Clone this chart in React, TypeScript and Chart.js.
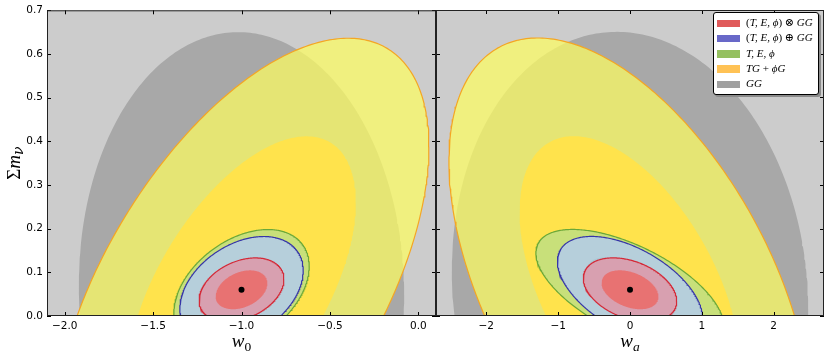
import React, { useEffect, useRef } from 'react';
import { Chart, registerables } from 'chart.js';
Chart.register(...registerables);

// ---------- data ----------
// probes, bottom to top of the drawing stack
const probes = ['GG', 'TG+ϕG', 'T,E,ϕ', '(T,E,ϕ)⊕GG', '(T,E,ϕ)⊗GG'];
const fiducialW0 = -1.0;
const fiducialWa = 0.0;
const fiducialMnu = 0.06;
// 2σ half-extents and correlations
const mnu2sigma = [0.59, 0.576, 0.138, 0.122, 0.073];
const w0TwoSigma = [0.92, 1.06, 0.383, 0.349, 0.24];
const w0Corr = [-0.02, 0.569, 0.39, 0.36, 0.33];
const waTwoSigma = [2.48, 2.52, 1.31, 1.01, 0.65];
const waCorr = [-0.075, -0.51, -0.61, -0.53, -0.36];
const oneSigmaRatio = 0.61;

const w0Ticks = [-2.0, -1.5, -1.0, -0.5, 0.0];
const waTicks = [-2, -1, 0, 1, 2];
const mnuTicks = [0.0, 0.1, 0.2, 0.3, 0.4, 0.5, 0.6, 0.7];
const w0Range = [-2.1, 0.1];
const waRange = [-2.7, 2.7];
const mnuRange = [0, 0.7];

const legendOrder = [4, 3, 2, 1, 0];

// ---------- styles ----------
const outerFill = ['#a8a8a8', 'rgba(255,255,94,0.7)', '#c8e07a', '#b6cfdb', '#d8a0b0'];
const innerFill = ['#a8a8a8', '#ffe34c', '#c8e07a', '#abc7d3', '#e87272'];
const edgeColor = ['', '#f5a623', '#6aa838', '#3636a8', '#d42a38'];
const legendColor = ['#a0a0a0', '#ffc255', '#95c060', '#6868c8', '#e05a5a'];

function ellipse(cx: number, cy: number, sx: number, sy: number, rho: number, n = 360) {
  const s = Math.sqrt(1 - rho * rho);
  const pts: { x: number; y: number }[] = [];
  for (let i = 0; i <= n; i++) {
    const t = (2 * Math.PI * i) / n;
    pts.push({ x: cx + sx * Math.cos(t), y: cy + sy * (rho * Math.cos(t) + s * Math.sin(t)) });
  }
  return pts;
}

function buildDatasets(cx: number, sxArr: number[], rhoArr: number[]) {
  const list: any[] = [];
  list.push({
    type: 'scatter',
    data: [{ x: cx, y: fiducialMnu }],
    pointRadius: 3,
    pointBackgroundColor: '#000',
    pointBorderWidth: 0,
    clip: 0,
  });
  for (let i = probes.length - 1; i >= 0; i--) {
    for (const level of ['inner', 'outer']) {
      const f = level === 'inner' ? oneSigmaRatio : 1;
      const edge = level === 'outer' ? edgeColor[i] : '';
      list.push({
        type: 'line',
        label: probes[i] + ' ' + level,
        data: ellipse(cx, fiducialMnu, sxArr[i] * f, mnu2sigma[i] * f, rhoArr[i]),
        backgroundColor: level === 'inner' ? innerFill[i] : outerFill[i],
        borderColor: edge || 'rgba(0,0,0,0)',
        borderWidth: edge ? 1.2 : 0,
        pointRadius: 0,
        fill: 'shape',
        tension: 0,
        clip: 0,
      });
    }
  }
  return list;
}

const fmt1 = (v: number) => v.toFixed(1).replace('-', '\u2212');
const fmt0 = (v: number) => v.toFixed(0).replace('-', '\u2212');

function makePlugin(xTicks: number[], sub: string, showYTitle: boolean) {
  return {
    id: 'frame',
    beforeDraw(chart: any) {
      const { ctx, chartArea: a } = chart;
      ctx.save();
      ctx.fillStyle = '#cccccc';
      ctx.fillRect(a.left, a.top, a.right - a.left, a.bottom - a.top);
      ctx.restore();
    },
    afterDraw(chart: any) {
      const { ctx, chartArea: a, scales } = chart;
      const xs = scales.x;
      const ys = scales.y;
      ctx.save();
      ctx.strokeStyle = '#000';
      ctx.lineWidth = 1;
      ctx.beginPath();
      for (const v of xTicks) {
        const p = Math.round(xs.getPixelForValue(v)) + 0.5;
        ctx.moveTo(p, a.bottom);
        ctx.lineTo(p, a.bottom - 4);
        ctx.moveTo(p, a.top);
        ctx.lineTo(p, a.top + 4);
      }
      for (const v of mnuTicks) {
        const p = Math.round(ys.getPixelForValue(v)) + 0.5;
        ctx.moveTo(a.left, p);
        ctx.lineTo(a.left + 4, p);
        ctx.moveTo(a.right, p);
        ctx.lineTo(a.right - 4, p);
      }
      ctx.stroke();
      ctx.strokeStyle = '#222';
      ctx.strokeRect(a.left + 0.5, a.top + 0.5, a.right - a.left - 1, a.bottom - a.top - 1);

      ctx.fillStyle = '#000';
      ctx.textBaseline = 'alphabetic';
      const mainFont = 'italic 19px "Liberation Serif", "DejaVu Serif", serif';
      const subFont = (sub === 'a' ? 'italic ' : '') + '13.5px "Liberation Serif", "DejaVu Serif", serif';
      ctx.font = mainFont;
      const mw = ctx.measureText('w').width;
      ctx.font = subFont;
      const sw = ctx.measureText(sub).width;
      const cx = (a.left + a.right) / 2;
      const x0 = cx - (mw + sw) / 2;
      ctx.font = mainFont;
      ctx.fillText('w', x0, 346.5);
      ctx.font = subFont;
      ctx.fillText(sub, x0 + mw, 350.5);

      if (showYTitle) {
        ctx.save();
        const cy = (a.top + a.bottom) / 2;
        ctx.translate(19.5, cy);
        ctx.rotate(-Math.PI / 2);
        const fSig = '19px "Liberation Serif", "DejaVu Serif", serif';
        const fM = 'italic 19px "Liberation Serif", "DejaVu Serif", serif';
        const fNu = 'italic 14px "DejaVu Serif", "Liberation Serif", serif';
        ctx.font = fSig;
        const w1 = ctx.measureText('\u03A3').width;
        ctx.font = fM;
        const w2 = ctx.measureText('m').width;
        ctx.font = fNu;
        const w3 = ctx.measureText('\u03BD').width;
        let x = -(w1 + w2 + w3) / 2;
        ctx.font = fSig;
        ctx.fillText('\u03A3', x, 0);
        x += w1;
        ctx.font = fM;
        ctx.fillText('m', x, 0);
        x += w2;
        ctx.font = fNu;
        ctx.fillText('\u03BD', x, 3.5);
        ctx.restore();
      }
      ctx.restore();
    },
  };
}

function makeChart(
  canvas: HTMLCanvasElement,
  cx: number,
  sxArr: number[],
  rhoArr: number[],
  range: number[],
  xTicks: number[],
  fmt: (v: number) => string,
  sub: string,
  left: boolean
) {
  return new Chart(canvas, {
    type: 'line',
    data: { datasets: buildDatasets(cx, sxArr, rhoArr) },
    options: {
      animation: false,
      responsive: false,
      devicePixelRatio: 1,
      events: [],
      layout: { padding: left ? { top: 10, right: 4, left: 0, bottom: 0 } : { top: 10, right: 6, left: 1, bottom: 0 } },
      plugins: { legend: { display: false }, tooltip: { enabled: false } },
      scales: {
        x: {
          type: 'linear',
          min: range[0],
          max: range[1],
          grid: { display: false, drawTicks: false },
          border: { display: false },
          afterBuildTicks: (s: any) => {
            s.ticks = xTicks.map((v) => ({ value: v }));
          },
          afterFit: (s: any) => {
            s.height = 41;
          },
          ticks: {
            padding: 4,
            maxRotation: 0,
            autoSkip: false,
            color: '#000',
            font: { family: '"DejaVu Sans", sans-serif', size: 10.5 },
            callback: (v: any) => fmt(Number(v)),
          },
        },
        y: {
          type: 'linear',
          display: left,
          min: mnuRange[0],
          max: mnuRange[1],
          grid: { display: false, drawTicks: false },
          border: { display: false },
          afterBuildTicks: (s: any) => {
            s.ticks = mnuTicks.map((v) => ({ value: v }));
          },
          afterFit: (s: any) => {
            s.width = left ? 47 : 0;
          },
          ticks: {
            padding: 4,
            autoSkip: false,
            color: '#000',
            font: { family: '"DejaVu Sans", sans-serif', size: 10.5 },
            callback: (v: any) => fmt1(Number(v)),
          },
        },
      },
    } as any,
    plugins: [makePlugin(xTicks, sub, left)],
  } as any);
}

function Lab({ k }: { k: number }) {
  const up = { fontStyle: 'normal' } as React.CSSProperties;
  if (k === 4)
    return (
      <span>
        <span style={up}>(</span>T, E, ϕ<span style={up}>) ⊗ </span>GG
      </span>
    );
  if (k === 3)
    return (
      <span>
        <span style={up}>(</span>T, E, ϕ<span style={up}>) ⊕ </span>GG
      </span>
    );
  if (k === 2) return <span>T, E, ϕ</span>;
  if (k === 1)
    return (
      <span>
        TG<span style={up}> + </span>ϕG
      </span>
    );
  return <span>GG</span>;
}

export default function App() {
  const leftRef = useRef<HTMLCanvasElement>(null);
  const rightRef = useRef<HTMLCanvasElement>(null);
  useEffect(() => {
    document.body.style.margin = '0';
    const c1 = makeChart(leftRef.current!, fiducialW0, w0TwoSigma, w0Corr, w0Range, w0Ticks, fmt1, '0', true);
    const c2 = makeChart(rightRef.current!, fiducialWa, waTwoSigma, waCorr, waRange, waTicks, fmt0, 'a', false);
    return () => {
      c1.destroy();
      c2.destroy();
    };
  }, []);
  return (
    <div style={{ position: 'fixed', left: 0, top: 0, width: 830, height: 357, background: '#fff', overflow: 'hidden' }}>
      <canvas ref={leftRef} width={440} height={357} style={{ position: 'absolute', left: 0, top: 0, width: 440, height: 357 }} />
      <canvas ref={rightRef} width={398} height={357} style={{ position: 'absolute', left: 432, top: 0, width: 398, height: 357 }} />
      <div
        style={{
          position: 'absolute',
          left: 713,
          top: 12,
          width: 106,
          height: 83,
          boxSizing: 'border-box',
          background: '#fff',
          border: '1px solid #000',
          borderRadius: 3,
          boxShadow: '2px 2px 0 #8a8a8a',
          fontFamily: '"Liberation Serif", "DejaVu Serif", serif',
          fontStyle: 'italic',
          fontSize: 11,
          color: '#000',
        }}
      >
        {legendOrder.map((k, r) => (
          <div key={k} style={{ position: 'absolute', left: 0, top: 2 + r * 15.3, height: 15, width: 104 }}>
            <div style={{ position: 'absolute', left: 3, top: 4.5, width: 23, height: 7.5, background: legendColor[k] }} />
            <div style={{ position: 'absolute', left: 32, top: 0, lineHeight: '15px', whiteSpace: 'nowrap' }}>
              <Lab k={k} />
            </div>
          </div>
        ))}
      </div>
    </div>
  );
}
